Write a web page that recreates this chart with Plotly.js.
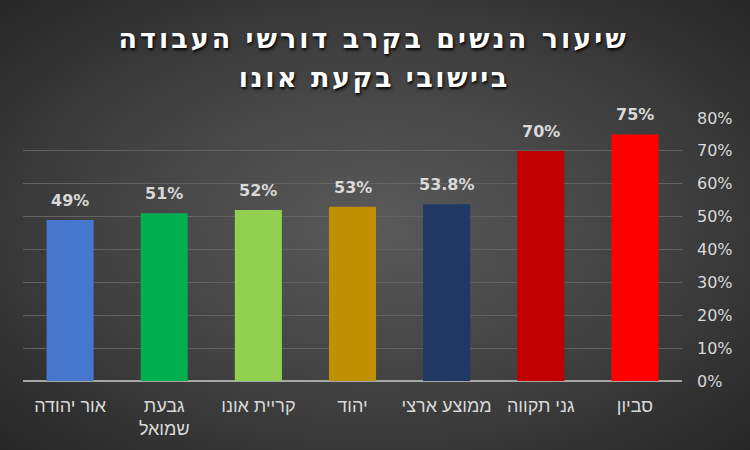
<!DOCTYPE html>
<html><head><meta charset="utf-8">
<script src="https://cdn.plot.ly/plotly-3.0.1.min.js"></script>
<style>
html,body{margin:0;padding:0;}
#chart{width:750px;height:450px;background:radial-gradient(ellipse at 50% 50%, #5a5a5a 0%, #404040 55%, #262626 100%);}
#chart g.annotation[data-index="7"] text { letter-spacing: 3px; }
#chart g.annotation[data-index="8"] text { letter-spacing: 2.5px; }
</style></head>
<body><div id="chart"></div>
<script>
const categories = ["אור יהודה", "גבעת<br>שמואל", "קריית אונו", "יהוד", "ממוצע ארצי", "גני תקווה", "סביון"];
const values = [49, 51, 52, 53, 53.8, 70, 75];
const labels = ["49%", "51%", "52%", "53%", "53.8%", "70%", "75%"];
const colors = ["#4677CC", "#00B050", "#92D050", "#BF9000", "#1F3864", "#C00000", "#FF0000"];
const yTicks = [0, 10, 20, 30, 40, 50, 60, 70, 80];
const yTickText = yTicks.map(v => v + "%");
const titleLines = ["שיעור הנשים בקרב דורשי העבודה", "ביישובי בקעת אונו"];

const trace = {
  type: "bar", x: categories, y: values,
  marker: {color: colors},
  width: 0.5, hoverinfo: "none"
};
const annotations = categories.map((c, i) => ({
  x: c, y: values[i], text: "<b>" + labels[i] + "</b>",
  showarrow: false, yanchor: "bottom", yshift: 8,
  font: {family: "DejaVu Sans, sans-serif", size: 16, color: "#D9D9D9"}
}));
const titleY = [1.302, 1.155];
titleLines.forEach((t, i) => annotations.push({
  xref: "paper", yref: "paper", x: 0.533, y: titleY[i],
  xanchor: "center", yanchor: "middle", showarrow: false,
  text: "<b>" + t + "</b>",
  font: {family: "DejaVu Sans, sans-serif", size: 27, color: "#FFFFFF", shadow: "1px 2px 3px #000000"}
}));
const layout = {
  width: 750, height: 450,
  paper_bgcolor: "rgba(0,0,0,0)", plot_bgcolor: "rgba(0,0,0,0)",
  margin: {l: 23, r: 68, t: 118, b: 69},
  xaxis: {
    type: "category", showgrid: false, showline: false, zeroline: false,
    tickfont: {family: "Liberation Sans, Arial, sans-serif", size: 18, color: "#D9D9D9"},
    ticks: "", ticklabelstandoff: 12
  },
  yaxis: {
    side: "right", range: [0, 80], tickvals: yTicks, ticktext: yTickText,
    showgrid: true, gridcolor: "#626262", gridwidth: 1,
    zeroline: true, zerolinecolor: "#A6A6A6", zerolinewidth: 1.5,
    showline: false, ticks: "", ticklabelstandoff: 14,
    tickfont: {family: "DejaVu Sans, sans-serif", size: 16, color: "#D9D9D9"}
  },
  annotations: annotations,
  showlegend: false, bargap: 0.5
};
Plotly.newPlot("chart", [trace], layout, {displayModeBar: false, staticPlot: true});
</script></body></html>
